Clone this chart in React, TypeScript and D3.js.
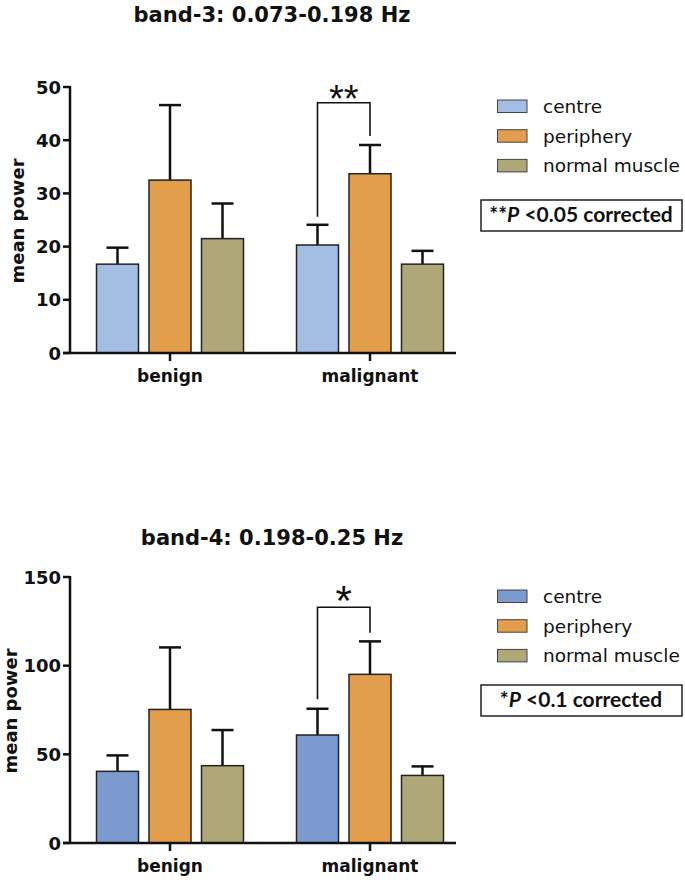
import React from "react";
import * as d3 from "d3";

const groups = ["benign", "malignant"];
const seriesNames = ["centre", "periphery", "normal muscle"];

const band3Means = [
  [16.7, 32.5, 21.5],
  [20.3, 33.7, 16.7],
];
const band3Errs = [
  [19.8, 46.6, 28.1],
  [24.1, 39.1, 19.2],
];
const band3Ticks = [0, 10, 20, 30, 40, 50];
const band3Colors = ["#a3bde3", "#e39e4b", "#aea878"];

const band4Means = [
  [40.4, 75.3, 43.6],
  [60.9, 95.1, 38.1],
];
const band4Errs = [
  [49.4, 110.3, 63.7],
  [75.7, 113.7, 43.2],
];
const band4Ticks = [0, 50, 100, 150];
const band4Colors = ["#7c9bcf", "#e39e4b", "#aea878"];

const FONT = "'DejaVu Sans', sans-serif";

type PanelProps = {
  top: number;
  title: string;
  titleY: number;
  yLabelX: number;
  means: number[][];
  errs: number[][];
  ticks: number[];
  colors: string[];
  stars: string;
  starSize: number;
  starDy: number;
  bracketLeftBottom: number;
  bracketTop: number;
  bracketRightBottom: number;
  noteStars: string;
  noteRest: string;
  boxTop: number;
};

function Panel(p: PanelProps) {
  const yMax = p.ticks[p.ticks.length - 1];
  const y = d3.scaleLinear().domain([0, yMax]).range([p.top + 353, p.top + 87]);
  const x0 = d3.scaleBand<string>().domain(groups).range([70, 470]);
  const x1 = d3
    .scaleBand<string>()
    .domain(seriesNames)
    .range([0, 157.5])
    .paddingInner(0.2)
    .paddingOuter(0.1);
  const groupStart = (g: string) => (x0(g) as number) + x0.bandwidth() / 2 - 78.75;
  const bw = x1.bandwidth();
  const barX = (g: string, s: string) => groupStart(g) + (x1(s) as number);
  const cx = (g: string, s: string) => barX(g, s) + bw / 2;

  const lx = cx("malignant", "centre");
  const rx = cx("malignant", "periphery");

  return (
    <g>
      <text
        x={272}
        y={p.top + p.titleY}
        textAnchor="middle"
        fontFamily={FONT}
        fontWeight="bold"
        fontSize={21}
        fill="#111"
      >
        {p.title}
      </text>
      {/* bars */}
      {groups.map((g, gi) =>
        seriesNames.map((s, si) => {
          const v = p.means[gi][si];
          const e = p.errs[gi][si];
          return (
            <g key={g + s}>
              <line
                x1={cx(g, s)}
                x2={cx(g, s)}
                y1={y(v)}
                y2={y(e)}
                stroke="#111"
                strokeWidth={2.5}
              />
              <line
                x1={cx(g, s) - 11}
                x2={cx(g, s) + 11}
                y1={y(e)}
                y2={y(e)}
                stroke="#111"
                strokeWidth={2.5}
              />
              <rect
                x={barX(g, s)}
                y={y(v)}
                width={bw}
                height={y(0) - y(v)}
                fill={p.colors[si]}
                stroke="#222"
                strokeWidth={1.5}
              />
            </g>
          );
        })
      )}
      {/* y axis */}
      <line x1={70} x2={70} y1={y(yMax) - 1} y2={y(0)} stroke="#111" strokeWidth={2.5} />
      {p.ticks.map((t) => (
        <g key={t}>
          <line x1={63} x2={70} y1={y(t)} y2={y(t)} stroke="#111" strokeWidth={2.5} />
          <text
            x={61}
            y={y(t) + 6.5}
            textAnchor="end"
            fontFamily={FONT}
            fontWeight="bold"
            fontSize={18}
            fill="#111"
          >
            {t}
          </text>
        </g>
      ))}
      {/* x axis */}
      <line x1={63} x2={456} y1={y(0)} y2={y(0)} stroke="#111" strokeWidth={2.5} />
      {groups.map((g) => {
        const gx = (x0(g) as number) + x0.bandwidth() / 2;
        return (
          <g key={g}>
            <line x1={gx} x2={gx} y1={y(0)} y2={y(0) + 8} stroke="#111" strokeWidth={2.5} />
            <text
              x={gx}
              y={y(0) + 29}
              textAnchor="middle"
              fontFamily={FONT}
              fontWeight="bold"
              fontSize={17}
              fill="#111"
            >
              {g}
            </text>
          </g>
        );
      })}
      {/* y label */}
      <text
        transform={`translate(${p.yLabelX},${p.top + 221}) rotate(-90)`}
        textAnchor="middle"
        fontFamily={FONT}
        fontWeight="bold"
        fontSize={18}
        fill="#111"
      >
        mean power
      </text>
      {/* bracket */}
      <path
        d={`M${lx},${p.top + p.bracketLeftBottom} V${p.top + p.bracketTop} H${rx} V${
          p.top + p.bracketRightBottom
        }`}
        fill="none"
        stroke="#111"
        strokeWidth={1.6}
      />
      <text
        x={(lx + rx) / 2}
        y={p.top + p.starDy}
        textAnchor="middle"
        fontFamily="'Liberation Sans', Arial, sans-serif"
        fontSize={p.starSize}
        fill="#111"
      >
        {p.stars}
      </text>
      {/* legend */}
      {seriesNames.map((s, i) => (
        <g key={s}>
          <rect
            x={497.5}
            y={p.top + 100 + i * 29.7}
            width={29.5}
            height={12.5}
            fill={p.colors[i]}
            stroke="#444"
            strokeWidth={1}
          />
          <text
            x={543}
            y={p.top + 113 + i * 29.7}
            fontFamily={FONT}
            fontSize={18.5}
            fill="#111"
          >
            {s}
          </text>
        </g>
      ))}
      {/* note box */}
      <rect
        x={481}
        y={p.top + p.boxTop}
        width={201}
        height={31}
        fill="#fff"
        stroke="#222"
        strokeWidth={1.5}
      />
      <text
        x={581}
        y={p.top + p.boxTop + 22}
        textAnchor="middle"
        fontFamily="Lato, sans-serif"
        fontWeight="bold"
        fontSize={21}
        fill="#111"
      >
        {p.noteStars}
        <tspan fontStyle="italic">P</tspan>
        {p.noteRest}
      </text>
    </g>
  );
}

export default function App() {
  return (
    <svg width={685} height={880} style={{ display: "block", position: "absolute", left: 0, top: 0 }}>
      <rect width={685} height={880} fill="#fff" />
      <Panel
        top={0}
        title="band-3: 0.073-0.198 Hz"
        titleY={22}
        yLabelX={24}
        means={band3Means}
        errs={band3Errs}
        ticks={band3Ticks}
        colors={band3Colors}
        stars="**"
        starSize={38}
        starDy={112}
        bracketLeftBottom={216.7}
        bracketTop={102.7}
        bracketRightBottom={136}
        noteStars="**"
        noteRest=" <0.05 corrected"
        boxTop={200}
      />
      <Panel
        top={490}
        title="band-4: 0.198-0.25 Hz"
        titleY={55}
        yLabelX={17}
        means={band4Means}
        errs={band4Errs}
        ticks={band4Ticks}
        colors={band4Colors}
        stars="*"
        starSize={42}
        starDy={125}
        bracketLeftBottom={209.3}
        bracketTop={117.3}
        bracketRightBottom={142.7}
        noteStars="*"
        noteRest=" <0.1 corrected"
        boxTop={195}
      />
    </svg>
  );
}
